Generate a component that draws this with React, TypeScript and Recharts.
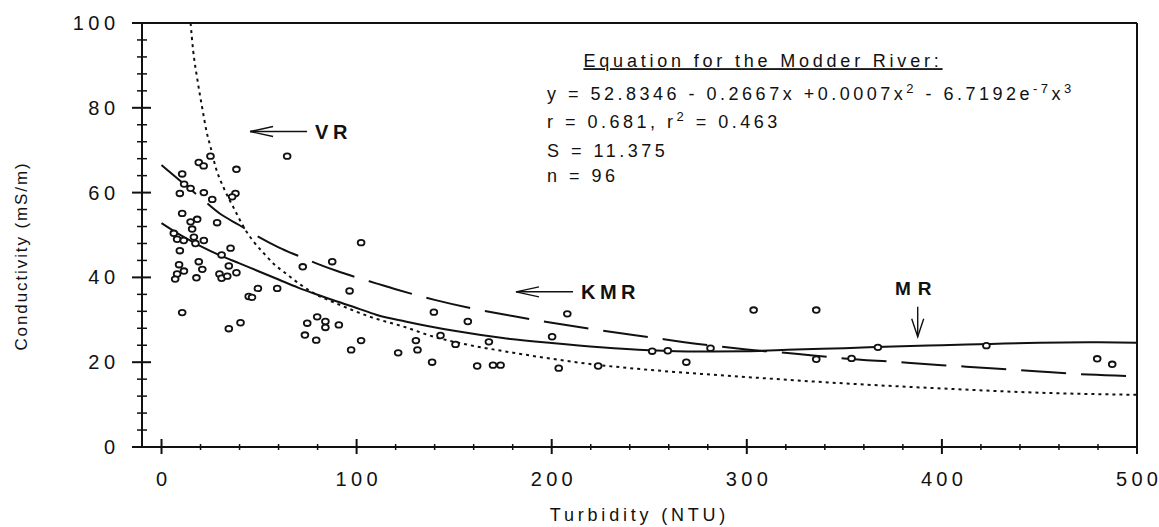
import React from "react";
import { ComposedChart, Line, Scatter, XAxis, YAxis, ReferenceLine } from "recharts";

const FONT = "'Liberation Sans', Arial, Helvetica, sans-serif";
const INK = "#111";

// axis ticks (labels only on the big ones)
const xTicks = [0, 20, 40, 60, 80, 100, 120, 140, 160, 180, 200, 220, 240, 260, 280, 300, 320, 340, 360, 380, 400, 420, 440, 460, 480, 500];
const yTicks = [0, 4, 8, 12, 16, 20, 24, 28, 32, 36, 40, 44, 48, 52, 56, 60, 64, 68, 72, 76, 80, 84, 88, 92, 96, 100];

// Modder River samples: [turbidity NTU, conductivity mS/m]
const mrSamples: [number, number][] = [
  [25.1, 68.6], [19.1, 67.1], [21.6, 66.3], [38.4, 65.5], [10.6, 64.4], [11.6, 62.0], [14.9, 61.0],
  [9.4, 59.8], [21.7, 60.0], [26.0, 58.4], [37.9, 59.8], [36.2, 59.0], [10.6, 55.1], [14.9, 53.1],
  [18.3, 53.7], [15.7, 51.4], [28.5, 52.9], [6.3, 50.4], [8.0, 49.0], [11.4, 48.7], [16.6, 49.5],
  [17.4, 48.0], [21.7, 48.7], [9.4, 46.3], [35.4, 46.9], [30.8, 45.3], [19.1, 43.7], [20.9, 41.9],
  [34.5, 42.7], [38.4, 41.1], [9.0, 43.0], [11.5, 41.5], [8.0, 40.8], [7.0, 39.6], [17.9, 39.9],
  [29.7, 40.8], [30.8, 39.8], [33.7, 40.3], [44.7, 35.5], [46.4, 35.3], [49.4, 37.4], [59.3, 37.4],
  [10.6, 31.7], [40.5, 29.3], [34.5, 27.9], [64.4, 68.6], [102.3, 48.2], [87.5, 43.7], [72.4, 42.5],
  [96.4, 36.8], [139.6, 31.8], [79.8, 30.7], [74.7, 29.2], [84.0, 29.6], [84.0, 28.2], [90.9, 28.8],
  [73.5, 26.4], [79.3, 25.2], [102.3, 25.1], [97.2, 22.9], [121.3, 22.2], [130.4, 25.1], [131.2, 22.9],
  [138.7, 20.0], [143.0, 26.3], [150.7, 24.2], [157.0, 29.6], [167.8, 24.8], [161.8, 19.1], [169.9, 19.3],
  [173.8, 19.3], [208.0, 31.4], [200.2, 26.0], [203.6, 18.6], [223.8, 19.1], [251.5, 22.6], [259.5, 22.7],
  [269.0, 20.0], [281.4, 23.3], [303.5, 32.3], [335.6, 32.3], [335.6, 20.7], [353.7, 20.9], [367.2, 23.5],
  [422.8, 23.9], [479.6, 20.8], [487.3, 19.5],
];

// fitted curves
const mrFit: [number, number][] = [
  [0, 52.8], [10, 49.9], [20, 47.4], [30, 45.2], [40, 43.3], [50, 41.4], [60, 39.5], [70, 37.6],
  [80, 35.9], [90, 34.3], [100, 32.8], [110, 31.2], [125, 29.6], [150, 27.4], [175, 25.7], [200, 24.5],
  [225, 23.5], [250, 22.8], [275, 22.5], [300, 22.6], [325, 23.0], [350, 23.3], [375, 23.7], [400, 24.0],
  [425, 24.3], [450, 24.6], [475, 24.7], [500, 24.6],
];
const kmrFit: [number, number][] = [
  [0, 66.5], [10, 62.6], [20, 58.8], [30, 55.0], [40, 52.3], [50, 49.5], [60, 47.1], [70, 45.1],
  [80, 43.2], [90, 41.5], [100, 40.0], [110, 38.6], [120, 37.2], [140, 34.7], [160, 32.6], [180, 30.9],
  [200, 29.3], [225, 27.5], [250, 25.9], [275, 24.3], [300, 23.0], [325, 22.0], [350, 20.9], [375, 20.1],
  [400, 19.3], [425, 18.6], [450, 17.8], [475, 17.1], [500, 16.7],
];
const vrFit: [number, number][] = [
  [14.9, 100], [16.2, 93.6], [18.3, 86.9], [20.9, 79.9], [23.1, 74.4], [25.1, 70.8], [27.7, 66.1],
  [32, 61.0], [37, 56.4], [43, 51.2], [47.3, 48.4], [52.4, 45.7], [58, 43.0], [64.4, 40.7], [71.2, 38.3],
  [78, 36.3], [90, 33.8], [107, 30.7], [124, 28.4], [141, 25.8], [150, 24.8], [182, 22.1], [223, 19.4],
  [250, 18.2], [300, 16.5], [350, 15.0], [400, 13.8], [450, 12.8], [500, 12.3],
];

// annotation anchors (data coords of arrow tips)
const leftNotes = [
  { x: 45.4, y: 74.4, label: "VR" },
  { x: 181.7, y: 36.6, label: "KMR" },
];
const downNotes = [{ x: 387.6, y: 26.0, label: "MR" }];
const equationAnchor = [{ x: 197.6, y: 81.8 }];

const toPts = (arr: [number, number][]) => arr.map(([x, y]) => ({ x, y }));

// spaced-out label without the trailing gap after the last glyph
const Spaced = ({ s, ls }: { s: string; ls: number }) => (
  <>
    <tspan letterSpacing={ls}>{s.slice(0, -1)}</tspan>
    <tspan letterSpacing={0}>{s.slice(-1)}</tspan>
  </>
);

const XTick = (props: any) => {
  const { x, y, payload } = props;
  const v = payload.value;
  const major = v % 100 === 0;
  return (
    <g>
      <line x1={x} x2={x} y1={y - (major ? 8 : 3)} y2={y + (major ? 7 : 3)} stroke={INK} strokeWidth={major ? 2 : 1.5} />
      {major && (
        <text x={x} y={y + 39} textAnchor="middle" fontFamily={FONT} fontSize={20} fill={INK}>
          <Spaced s={String(v)} ls={4.3} />
        </text>
      )}
    </g>
  );
};

const YTick = (props: any) => {
  const { x, y, payload } = props;
  const v = payload.value;
  const major = v % 20 === 0;
  return (
    <g>
      <line x1={x - (major ? 10 : 5)} x2={x + (major ? 9 : 5)} y1={y} y2={y} stroke={INK} strokeWidth={major ? 2 : 1.5} />
      {major && (
        <text x={x - 27} y={y + 7} textAnchor="end" fontFamily={FONT} fontSize={20} fill={INK}>
          <Spaced s={String(v)} ls={4.5} />
        </text>
      )}
    </g>
  );
};

const Ring = (props: any) => {
  const { cx, cy } = props;
  return <ellipse cx={cx} cy={cy} rx={3.4} ry={2.8} fill="#fff" stroke={INK} strokeWidth={1.8} />;
};

const LeftArrow = (props: any) => {
  const { cx, cy, payload } = props;
  return (
    <g stroke={INK} strokeWidth={1.4} fill="none">
      <line x1={cx} y1={cy} x2={cx + 57} y2={cy} />
      <polyline points={`${cx + 23},${cy - 5} ${cx},${cy} ${cx + 23},${cy + 5}`} />
      <text x={cx + 65} y={cy + 7.5} stroke="none" fill={INK} fontFamily={FONT} fontWeight="bold" fontSize={20} letterSpacing={4.5}>
        {payload.label}
      </text>
    </g>
  );
};

const DownArrow = (props: any) => {
  const { cx, cy, payload } = props;
  return (
    <g stroke={INK} strokeWidth={1.4} fill="none">
      <line x1={cx} y1={cy - 30} x2={cx} y2={cy} />
      <polyline points={`${cx - 6},${cy - 18} ${cx},${cy} ${cx + 6},${cy - 18}`} />
      <text x={cx - 1} y={cy - 42} textAnchor="middle" stroke="none" fill={INK} fontFamily={FONT} fontWeight="bold" fontSize={19} letterSpacing={7}>
        {payload.label}
      </text>
    </g>
  );
};

const EquationBlock = (props: any) => {
  const { cx, cy } = props;
  const t = { fontFamily: FONT, fontSize: 18, fill: INK, letterSpacing: 3.5 } as const;
  const sup = { fontSize: 13 };
  return (
    <g>
      <text x={cx + 216} y={cy - 33} textAnchor="middle" {...t} letterSpacing={3.8} style={{ textDecoration: "underline" }}>
        Equation for the Modder River:
      </text>
      <text x={cx} y={cy} {...t}>
        y = 52.8346 - 0.2667x +0.0007x
        <tspan dy={-7} {...sup}>2</tspan>
        <tspan dy={7}> - 6.7192e</tspan>
        <tspan dy={-7} {...sup}>-7</tspan>
        <tspan dy={7}>x</tspan>
        <tspan dy={-7} {...sup}>3</tspan>
      </text>
      <text x={cx} y={cy + 28} {...t}>
        r = 0.681, r<tspan dy={-7} {...sup}>2</tspan>
        <tspan dy={7}> = 0.463</tspan>
      </text>
      <text x={cx} y={cy + 57} {...t}>S = 11.375</text>
      <text x={cx} y={cy + 82} {...t}>n = 96</text>
    </g>
  );
};

const XTitle = (props: any) => {
  const vb = props.viewBox;
  return (
    <text x={vb.x + vb.width / 2} y={vb.y + 74} textAnchor="middle" fontFamily={FONT} fontSize={18} letterSpacing={3.8} fill={INK}>
      Turbidity (NTU)
    </text>
  );
};

const YTitle = (props: any) => {
  const vb = props.viewBox;
  const x = 27;
  const y = vb.y + 233;
  return (
    <text x={x} y={y} transform={`rotate(-90 ${x} ${y})`} textAnchor="middle" fontFamily={FONT} fontSize={17} letterSpacing={1.9} fill={INK}>
      Conductivity (mS/m)
    </text>
  );
};

export default function App() {
  return (
    <div style={{ position: "absolute", left: 0, top: 0, width: 1159, height: 527, background: "#fff" }}>
      <ComposedChart width={1159} height={527} margin={{ top: 23, right: 22, bottom: 0, left: 0 }}>
        <XAxis
          type="number"
          dataKey="x"
          domain={[-10, 500]}
          ticks={xTicks}
          interval={0}
          tick={<XTick />}
          tickLine={false}
          tickSize={0}
          tickMargin={0}
          axisLine={{ stroke: INK, strokeWidth: 2 }}
          height={80}
          allowDataOverflow
          label={{ content: (p: any) => <XTitle {...p} /> }}
        />
        <YAxis
          type="number"
          dataKey="y"
          domain={[0, 100]}
          ticks={yTicks}
          interval={0}
          tick={<YTick />}
          tickLine={false}
          tickSize={0}
          tickMargin={0}
          axisLine={{ stroke: INK, strokeWidth: 2 }}
          width={142}
          allowDataOverflow
          label={{ content: (p: any) => <YTitle {...p} /> }}
        />
        <ReferenceLine y={100} stroke={INK} strokeWidth={2} />
        <ReferenceLine x={500} stroke={INK} strokeWidth={2} />

        <Line data={toPts(vrFit)} dataKey="y" type="monotone" stroke={INK} strokeWidth={2} strokeDasharray="3 4" dot={false} activeDot={false} isAnimationActive={false} />
        <Line data={toPts(kmrFit)} dataKey="y" type="monotone" stroke={INK} strokeWidth={2} strokeDasharray="45 15" dot={false} activeDot={false} isAnimationActive={false} />
        <Line data={toPts(mrFit)} dataKey="y" type="monotone" stroke={INK} strokeWidth={2} dot={false} activeDot={false} isAnimationActive={false} />

        <Scatter data={toPts(mrSamples)} dataKey="y" shape={Ring} isAnimationActive={false} />

        <Scatter data={leftNotes} dataKey="y" shape={LeftArrow} isAnimationActive={false} />
        <Scatter data={downNotes} dataKey="y" shape={DownArrow} isAnimationActive={false} />
        <Scatter data={equationAnchor} dataKey="y" shape={EquationBlock} isAnimationActive={false} />
      </ComposedChart>
    </div>
  );
}
